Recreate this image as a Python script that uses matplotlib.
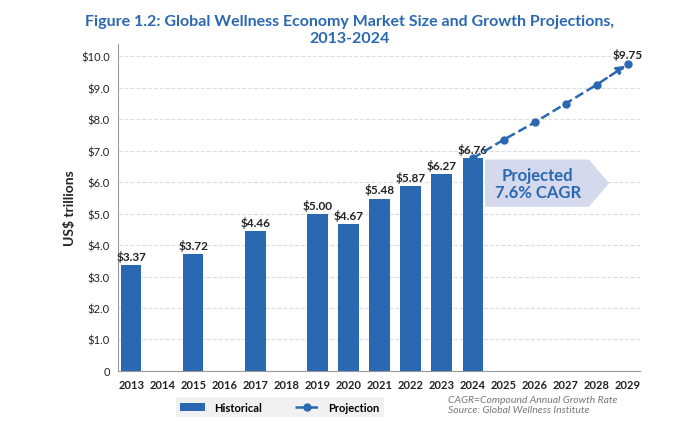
import matplotlib
matplotlib.use("Agg")
import matplotlib.pyplot as plt
from matplotlib.patches import Polygon

years = list(range(2013, 2030))
hist_years = [2013, 2015, 2017, 2019, 2020, 2021, 2022, 2023, 2024]
hist_vals = [3.37, 3.72, 4.46, 5.00, 4.67, 5.48, 5.87, 6.27, 6.76]
proj_years = [2024, 2025, 2026, 2027, 2028, 2029]
proj_vals = [6.76, 7.35, 7.90, 8.50, 9.10, 9.75]
yticks = [0, 1, 2, 3, 4, 5, 6, 7, 8, 9, 10]
ytick_labels = ["0"] + [f"${v:.1f}" for v in yticks[1:]]

blue = "#2a68b1"
plt.rcParams['font.family'] = ['Lato', 'DejaVu Sans']
fig = plt.figure(figsize=(7, 4.27), dpi=100)
ax = fig.add_axes([0.169, 0.129, 0.745, 0.766])

bars = ax.bar(hist_years, hist_vals, width=0.65, color=blue, zorder=3, label="Historical")
for x, v in zip(hist_years, hist_vals):
    ax.text(x, v + 0.1, f"${v:.2f}", ha="center", va="bottom", fontsize=8.5, fontweight="bold", color="#222222")
line, = ax.plot(proj_years[:-1], proj_vals[:-1], "--o", color=blue, lw=1.8, ms=5, zorder=4, label="Projection")
ax.annotate("", xy=(proj_years[-1], proj_vals[-1]), xytext=(proj_years[-2], proj_vals[-2]),
            arrowprops=dict(arrowstyle="-|>", color=blue, lw=1.8, ls="--", mutation_scale=12), zorder=4)
ax.plot([proj_years[-1]], [proj_vals[-1]], "o", color=blue, ms=5, zorder=5)
ax.text(proj_years[-1], proj_vals[-1] + 0.15, f"${proj_vals[-1]:.2f}", ha="center", va="bottom",
        fontsize=8.5, fontweight="bold", color="#222222")

poly = Polygon([(2024.4, 6.72), (2027.75, 6.72), (2028.4, 5.97), (2027.75, 5.22), (2024.4, 5.22)],
               closed=True, facecolor="#d4d9ee", edgecolor="none", zorder=2)
ax.add_patch(poly)
ax.text(2026.1, 5.97, "Projected\n7.6% CAGR", ha="center", va="center", fontsize=12,
        fontweight="bold", color=blue, linespacing=1.1, zorder=3)

ax.set_xlim(2012.58, 2029.39)
ax.set_ylim(0, 10.4)
ax.set_xticks(years)
ax.set_xticklabels([str(y) for y in years], fontsize=8, fontweight="bold", color="#222222")
ax.set_yticks(yticks)
ax.set_yticklabels(ytick_labels, fontsize=8, color="#222222")
ax.tick_params(length=0, pad=6)
ax.grid(axis="y", ls="--", color="#dddddd", lw=0.8, zorder=0)
for s in ["top", "right"]:
    ax.spines[s].set_visible(False)
ax.spines["left"].set_color("#999999")
ax.spines["bottom"].set_color("#999999")
ax.set_ylabel("US$ trillions", fontsize=10, fontweight="bold", color="#222222")

fig.text(0.5, 0.965, "Figure 1.2: Global Wellness Economy Market Size and Growth Projections,\n2013-2024",
         ha="center", va="top", fontsize=11.5, fontweight="bold", color=blue, linespacing=1.3)

leg = fig.legend([bars, line], ["Historical", "Projection"], loc="center", bbox_to_anchor=(0.40, 0.044),
                 ncol=2, fontsize=8, frameon=True, facecolor="#eeeeee", edgecolor="none", fancybox=False,
                 handlelength=2.2, columnspacing=3)
for t in leg.get_texts():
    t.set_fontweight("bold")
fig.text(0.64, 0.072, "CAGR=Compound Annual Growth Rate\nSource: Global Wellness Institute",
         ha="left", va="top", fontsize=7.5, style="italic", color="#777777", linespacing=1.1)

fig.savefig("out.png", dpi=100)
